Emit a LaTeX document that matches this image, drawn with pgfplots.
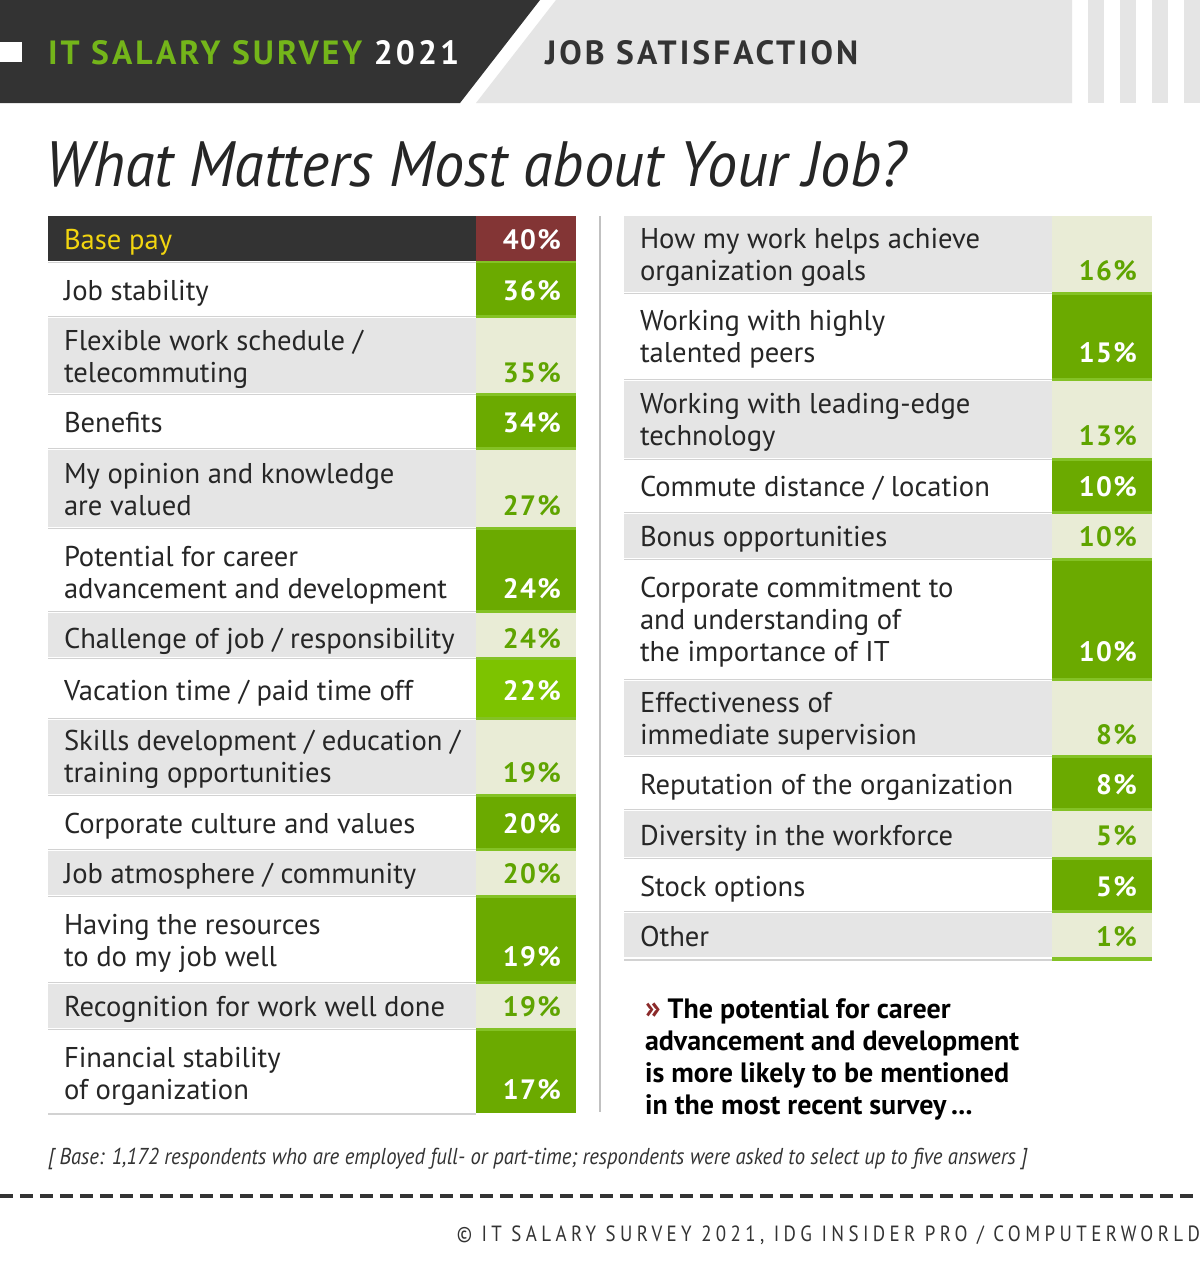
\documentclass[border=0pt]{standalone}
\usepackage{fontspec}
\usepackage{pgfplots}
\pgfplotsset{compat=1.18}
\setmainfont{PT Sans}
\newfontfamily\numfam{PT Sans}[LetterSpace=5]
\newfontfamily\headfam{PT Sans}[LetterSpace=9]
\newfontfamily\titlefam{PT Sans}[FakeStretch=0.94]
\newfontfamily\notefam{PT Sans}[FakeStretch=0.9]
\newfontfamily\copyfam{PT Sans}[LetterSpace=20,FakeStretch=0.86]
\newcommand\labfont{\fontsize{14.3}{16}\selectfont}
\newcommand\numfont{\numfam\bfseries\fontsize{14}{16}\selectfont}
\newcommand\headfont{\headfam\bfseries\fontsize{16.8}{18}\selectfont}
\newcommand\titlefont{\titlefam\itshape\fontsize{32}{36}\selectfont}
\newcommand\notefont{\notefam\itshape\fontsize{11.5}{13}\selectfont}
\newcommand\copyfont{\copyfam\fontsize{11}{12}\selectfont}
\newcommand\callfont{\bfseries\fontsize{14}{16}\selectfont}
\newcommand{\ml}[1]{\vbox{\baselineskip=16pt\lineskiplimit=-5pt\halign{##\hfil\cr#1\crcr}}}
\newcommand{\mlt}[1]{\vtop{\baselineskip=16pt\lineskiplimit=-5pt\halign{##\hfil\cr#1\crcr}}}
% colours
\definecolor{bgW}{HTML}{FFFFFF}\definecolor{cellW}{HTML}{6BAA00}\definecolor{numW}{HTML}{FFFFFF}\definecolor{labW}{HTML}{262626}
\definecolor{bgV}{HTML}{FFFFFF}\definecolor{cellV}{HTML}{7DC300}\definecolor{numV}{HTML}{FFFFFF}\definecolor{labV}{HTML}{262626}
\definecolor{bgG}{HTML}{E5E5E5}\definecolor{cellG}{HTML}{E9ECD6}\definecolor{numG}{HTML}{5FA400}\definecolor{labG}{HTML}{262626}
\definecolor{bgD}{HTML}{333333}\definecolor{cellD}{HTML}{833535}\definecolor{numD}{HTML}{FFFFFF}\definecolor{labD}{HTML}{F2D50F}
\definecolor{strip}{HTML}{84C225}
\definecolor{rulec}{HTML}{D2D2D2}
\definecolor{dark}{HTML}{333333}
\definecolor{hgrey}{HTML}{E5E5E5}
\definecolor{hgreen}{HTML}{74B51A}
\definecolor{dred}{HTML}{8B2A2A}
% rows: top, bottom, baseline, type, value, label, rule y
\newcommand{\Lrow}[7]{%
  \addplot[draw=none, fill=bg#4] coordinates {(48,#1) (476,#1) (476,#2) (48,#2)} -- cycle;
  \addplot[draw=none, fill=cell#4] coordinates {(476,#1) (576,#1) (576,#2) (476,#2)} -- cycle;
  \addplot[draw=rulec, line width=0.6pt] coordinates {(48,#7) (476,#7)};
  \node[anchor=base west, text=lab#4, font=\labfont] at (axis cs:64,#3) {\ml{#6}};
  \node[anchor=base east, text=num#4, font=\numfont] at (axis cs:561,#3) {#5\%};
}
\newcommand{\Rrow}[7]{%
  \addplot[draw=none, fill=bg#4] coordinates {(624,#1) (1052,#1) (1052,#2) (624,#2)} -- cycle;
  \addplot[draw=none, fill=cell#4] coordinates {(1052,#1) (1152,#1) (1152,#2) (1052,#2)} -- cycle;
  \addplot[draw=rulec, line width=0.6pt] coordinates {(624,#7) (1052,#7)};
  \node[anchor=base west, text=lab#4, font=\labfont] at (axis cs:640,#3) {\ml{#6}};
  \node[anchor=base east, text=num#4, font=\numfont] at (axis cs:1137,#3) {#5\%};
}
\begin{document}
\begin{tikzpicture}[every node/.style={inner sep=0pt, outer sep=0pt}]
\fill[white] (0,0) rectangle (600pt,632pt);
\useasboundingbox (0,0) rectangle (600pt,632pt);
\begin{axis}[at={(0,0)}, anchor=south west, width=600pt, height=632pt, scale only axis,
  xmin=0, xmax=1200, ymin=0, ymax=1264, y dir=reverse, axis lines=none, ticks=none, clip=false]
% header
\fill[dark] (axis cs:0,0) -- (axis cs:540,0) -- (axis cs:460,103) -- (axis cs:0,103) -- cycle;
\fill[hgrey] (axis cs:556,0) -- (axis cs:1072,0) -- (axis cs:1072,103) -- (axis cs:476,103) -- cycle;
\fill[hgrey] (axis cs:1088,0) rectangle (axis cs:1104,103);
\fill[hgrey] (axis cs:1120,0) rectangle (axis cs:1136,103);
\fill[hgrey] (axis cs:1152,0) rectangle (axis cs:1168,103);
\fill[hgrey] (axis cs:1184,0) rectangle (axis cs:1200,103);
\fill[white] (axis cs:0,42) rectangle (axis cs:22,62);
\node[anchor=base west, font=\headfont] at (axis cs:48,64) {\color{hgreen}IT SALARY SURVEY \color{white}2021};
\node[anchor=base west, font=\headfont, text=dark] at (axis cs:545,64) {JOB SATISFACTION};
\node[anchor=base west, font=\titlefont, text=labW] at (axis cs:46,186) {What Matters Most about Your Job?};
% value column backgrounds (separator strips)
\addplot[draw=none, fill=strip] coordinates {(476,261) (576,261) (576,1113) (476,1113)} -- cycle;
\addplot[draw=none, fill=strip] coordinates {(1052,216) (1152,216) (1152,961) (1052,961)} -- cycle;
% left table
\Lrow{216}{261}{249}{D}{40}{Base pay}{263}
\Lrow{263}{315}{300}{W}{36}{Job stability}{316.5}
\Lrow{318}{393}{382}{G}{35}{Flexible work schedule /\cr telecommuting}{394.5}
\Lrow{396}{447}{432}{W}{34}{Benefits}{448.5}
\Lrow{450}{527}{515}{G}{27}{My opinion and knowledge\cr are valued}{528.5}
\Lrow{530}{610}{598}{W}{24}{Potential for career\cr advancement and development}{611.5}
\Lrow{613}{657}{648}{G}{24}{Challenge of job / responsibility}{658.5}
\Lrow{660}{717}{700}{V}{22}{Vacation time / paid time off}{718.5}
\Lrow{720}{794}{782}{G}{19}{Skills development / education /\cr training opportunities}{795.5}
\Lrow{797}{848}{833}{W}{20}{Corporate culture and values}{849.5}
\Lrow{851}{895}{883}{G}{20}{Job atmosphere / community}{896.5}
\Lrow{898}{981}{966}{W}{19}{Having the resources\cr to do my job well}{982.5}
\Lrow{984}{1028}{1016}{G}{19}{Recognition for work well done}{1029.5}
\Lrow{1031}{1113}{1099}{W}{17}{Financial stability\cr of organization}{1114}
% right table
\Rrow{216}{292}{280}{G}{16}{How my work helps achieve\cr organization goals}{293.5}
\Rrow{295}{378}{362}{W}{15}{Working with highly\cr talented peers}{379.5}
\Rrow{381}{458}{445}{G}{13}{Working with leading-edge\cr technology}{459.5}
\Rrow{461}{511}{496}{W}{10}{Commute distance / location}{512.5}
\Rrow{514}{558}{546}{G}{10}{Bonus opportunities}{559.5}
\Rrow{561}{678}{661}{W}{10}{Corporate commitment to\cr and understanding of\cr the importance of IT}{679.5}
\Rrow{681}{755}{744}{G}{8}{Effectiveness of\cr immediate supervision}{756.5}
\Rrow{758}{808}{794}{W}{8}{Reputation of the organization}{809.5}
\Rrow{811}{857}{845}{G}{5}{Diversity in the workforce}{858.5}
\Rrow{860}{910}{896}{W}{5}{Stock options}{911.5}
\Rrow{913}{957}{946}{G}{1}{Other}{960}
% divider
\draw[color=rulec!80!gray, line width=1pt] (axis cs:600,216) -- (axis cs:600,1112);
% callout
\node[anchor=base west, font=\callfont, text=black] at (axis cs:645,1018) {\mlt{{\color{dred}\fontsize{16}{16}\selectfont»} The potential for career\cr advancement and development\cr is more likely to be mentioned\cr in the most recent survey\,...}};
% base note
\node[anchor=base west, font=\notefont, text=dark] at (axis cs:48,1164) {[ Base: 1,172 respondents who are employed full- or part-time; respondents were asked to select up to five answers ]};
\draw[color=dark, line width=2pt, dash pattern=on 6.5pt off 3.5pt] (axis cs:0,1196) -- (axis cs:1200,1196);
\node[anchor=base east, font=\copyfont, text=dark] at (axis cs:1200,1241) {© IT SALARY SURVEY 2021, IDG INSIDER PRO / COMPUTERWORLD};
\end{axis}
\end{tikzpicture}
\end{document}
